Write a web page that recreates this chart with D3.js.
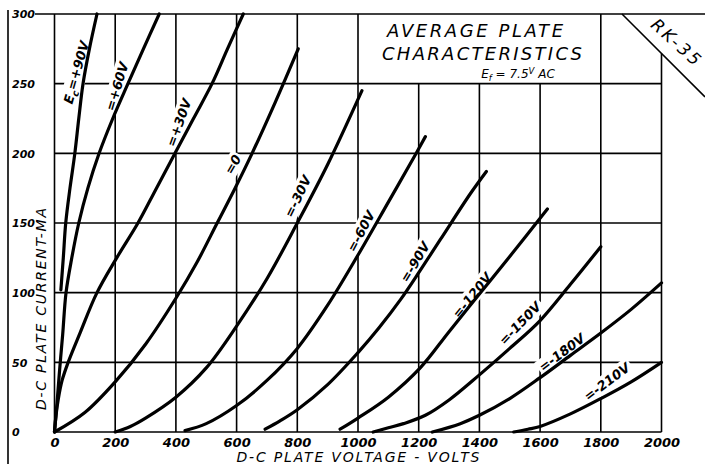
<!DOCTYPE html>
<html><head><meta charset="utf-8">
<script src="https://cdn.jsdelivr.net/npm/d3@7"></script>
<style>
html,body{margin:0;padding:0;background:#fff;}
svg{display:block;}
text{font-family:"DejaVu Sans",sans-serif;font-style:italic;fill:#000;}
</style></head><body>
<svg id="chart" width="705" height="464"></svg>
<script>
// Grid divisions and tick labels
const gridVolts = [0,200,400,600,800,1000,1200,1400,1600,1800,2000];
const gridMa = [0,50,100,150,200,250,300];

// Plate current (mA) against plate voltage (V), one array per grid bias
const ecPlus90  = [[21,102],[29,125],[37,150],[51,175],[67,200],[80,225],[94,250],[115,275],[140,300]];
const ecPlus60  = [[0,0],[8,20],[17,45],[27,70],[38,100],[57,125],[80,150],[110,175],[147,200],[192,225],[242,250],[293,275],[345,300]];
const ecPlus30  = [[0,0],[5,12],[12,23],[25,37],[45,50],[84,71],[140,100],[205,125],[275,150],[336,175],[397,200],[458,225],[519,250],[570,275],[622,300]];
const ecZero    = [[0,0],[100,14],[200,36],[300,63],[400,96],[470,122],[536,150],[595,175],[651,200],[728,237],[803,275]];
const ecMinus30 = [[200,0],[250,4],[300,10],[400,25],[500,46],[600,76],[700,110],[800,150],[900,192],[1013,245]];
const ecMinus60 = [[430,1],[500,6],[600,19],[700,37],[800,60],[900,91],[1000,127],[1100,165],[1189,199],[1222,212]];
const ecMinus90 = [[694,2],[743,8],[800,16],[900,34],[1000,57],[1070,75],[1140,95],[1205,116],[1271,138],[1370,171],[1423,187]];
const ecMinus120 = [[941,2],[1000,10],[1100,25],[1205,46],[1300,72],[1400,99],[1500,126],[1624,160]];
const ecMinus150 = [[1050,0],[1100,3],[1150,6],[1222,12],[1300,23],[1400,41],[1500,60],[1600,80],[1700,106],[1800,133]];
const ecMinus180 = [[1245,0],[1337,6],[1400,12],[1500,24],[1600,39],[1700,55],[1800,71],[1900,88],[2000,107]];
const ecMinus210 = [[1513,0],[1560,2],[1600,4],[1700,13],[1800,24],[1900,36],[2000,50]];

const curveSet = [ecPlus90, ecPlus60, ecPlus30, ecZero, ecMinus30, ecMinus60, ecMinus90, ecMinus120, ecMinus150, ecMinus180, ecMinus210];
const biasLabels = ["=+90V","=+60V","=+30V","=0","=-30V","=-60V","=-90V","=-120V","=-150V","=-180V","=-210V"];
// label centre (volts, mA) and text angle in degrees
const labelSpots = [[73,258,-74],[206,248,-73],[410,222,-70],[588,192,-60],[802,169,-64],[1010,144,-62],[1188,122,-59],[1376,98,-51],[1534,78,-46],[1672,57,-37],[1820,36,-37]];

const svg = d3.select("#chart");
const W = 705, H = 464;
const x = d3.scaleLinear().domain([0,2000]).range([54.5,661.5]);
const y = d3.scaleLinear().domain([0,300]).range([432,14]);
const ink = "#000";
const gridW = 1.6;

const grid = svg.append("g").attr("stroke", ink).attr("stroke-width", gridW).attr("fill","none");

// outer left rule and top rule
grid.append("line").attr("x1",8).attr("y1",10).attr("x2",8).attr("y2",H);
grid.append("line").attr("x1",35).attr("y1",y(300)).attr("x2",W).attr("y2",y(300));
// corner slash for the tube type
const slashX0 = 622;
grid.append("line").attr("x1",slashX0).attr("y1",y(300)).attr("x2",W).attr("y2",y(300)+(W-slashX0));

// vertical grid
gridVolts.forEach(v => {
  let top = y(300);
  if (v > 1000 && v < 1800) top = y(250);          // title block
  if (v === 2000) top = y(300) + (x(2000) - slashX0); // meets the slash
  grid.append("line").attr("x1",x(v)).attr("x2",x(v)).attr("y1",y(0)).attr("y2",top);
});
// horizontal grid
gridMa.filter(m => m < 300).forEach(m => {
  grid.append("line").attr("x1",x(0)).attr("x2",x(2000)).attr("y1",y(m)).attr("y2",y(m));
});

// curve labels: white knockout behind, text after the curves
const labelLayer = svg.append("g");
const curveLayer = svg.append("g");
const textLayer = svg.append("g");

const lineGen = d3.line().x(d => x(d[0])).y(d => y(d[1])).curve(d3.curveCatmullRom.alpha(0.5));
curveSet.forEach(pts => {
  curveLayer.append("path").attr("d", lineGen(pts))
    .attr("fill","none").attr("stroke",ink).attr("stroke-width",3.2)
    .attr("stroke-linecap","round").attr("stroke-linejoin","round");
});

biasLabels.forEach((lab, i) => {
  const [v, m, ang] = labelSpots[i];
  const g = textLayer.append("g").attr("transform", `translate(${x(v)},${y(m)}) rotate(${ang})`);
  const t = g.append("text").attr("text-anchor","middle").attr("dy","0.35em")
    .attr("font-size",13).attr("font-weight","bold");
  if (i === 0) {
    t.append("tspan").text("E");
    t.append("tspan").attr("font-size",9.5).attr("dy","0.35em").text("c");
    t.append("tspan").attr("dy","-0.3em").text(lab);
  } else {
    t.text(lab);
  }
  const bb = t.node().getBBox();
  labelLayer.append("g").attr("transform", `translate(${x(v)},${y(m)}) rotate(${ang})`)
    .append("rect").attr("x",bb.x-2).attr("y",bb.y-1).attr("width",bb.width+4).attr("height",bb.height+2)
    .attr("fill","#fff");
});

// axes: tick labels only
const xAxis = d3.axisBottom(x).tickValues(gridVolts).tickSize(0).tickFormat(d3.format("d"));
const gx = svg.append("g").attr("transform","translate(0,442)").call(xAxis);
gx.select(".domain").remove();
gx.selectAll("text").attr("y",0).attr("dy","0.35em").attr("font-size",13).attr("font-weight","bold")
  .attr("font-family",'"DejaVu Sans",sans-serif').attr("font-style","italic").attr("fill",ink);

const yAxis = d3.axisLeft(y).tickValues(gridMa).tickSize(0).tickFormat(d3.format("d"));
const gy = svg.append("g").attr("transform","translate(12,0)").call(yAxis);
gy.select(".domain").remove();
gy.selectAll("text").attr("x",0).attr("dy","0.35em").attr("text-anchor","start")
  .attr("font-size",11).attr("font-weight","bold")
  .attr("font-family",'"DejaVu Sans",sans-serif').attr("font-style","italic").attr("fill",ink);

// axis titles
svg.append("text").attr("x",358).attr("y",462).attr("text-anchor","middle")
  .attr("font-size",14).attr("textLength",243).attr("lengthAdjust","spacing")
  .text("D-C PLATE VOLTAGE - VOLTS");
svg.append("text").attr("transform","translate(46,309) rotate(-90)").attr("text-anchor","middle")
  .attr("font-size",14).attr("textLength",202).attr("lengthAdjust","spacing")
  .text("D-C PLATE CURRENT-MA");

// title block
svg.append("text").attr("x",475).attr("y",37).attr("text-anchor","middle")
  .attr("font-size",18).attr("textLength",176).attr("lengthAdjust","spacing").text("AVERAGE PLATE");
svg.append("text").attr("x",482).attr("y",60).attr("text-anchor","middle")
  .attr("font-size",18).attr("textLength",200).attr("lengthAdjust","spacing").text("CHARACTERISTICS");
const ef = svg.append("text").attr("x",518).attr("y",78).attr("text-anchor","middle").attr("font-size",12);
ef.append("tspan").text("E");
ef.append("tspan").attr("font-size",8.5).attr("dy",3).text("f");
ef.append("tspan").attr("dy",-3).text(" = 7.5");
ef.append("tspan").attr("font-size",8.5).attr("dy",-4).text("V");
ef.append("tspan").attr("dy",4).text(" AC");

svg.append("text").attr("transform","translate(676,42) rotate(42)").attr("text-anchor","middle")
  .attr("dy","0.35em").attr("font-size",17).attr("textLength",60).attr("lengthAdjust","spacing").text("RK-35");
</script>
</body></html>
